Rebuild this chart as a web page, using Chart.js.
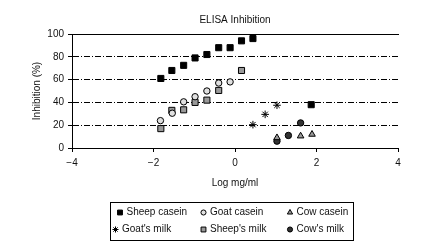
<!DOCTYPE html>
<html>
<head>
<meta charset="utf-8">
<script src="https://cdn.jsdelivr.net/npm/chart.js@4/dist/chart.umd.min.js"></script>
<style>
  html, body { margin: 0; padding: 0; background: #fff; }
  #wrap { width: 421px; height: 248px; position: relative; }
</style>
</head>
<body>
<div id="wrap"><canvas id="js-chart-elisa"></canvas></div>
<script>
  // Series data (log mg/ml vs inhibition %)
  const sheepCaseinX = [-1.82, -1.55, -1.26, -0.98, -0.69, -0.40, -0.12, 0.16, 0.44, 1.87];
  const sheepCaseinY = [61, 68, 72.5, 79, 82, 88, 88, 94, 96, 38];
  const goatCaseinX = [-1.83, -1.54, -1.26, -0.98, -0.69, -0.40, -0.12];
  const goatCaseinY = [24, 30.5, 40.5, 45, 50, 57, 58];
  const cowCaseinX = [1.03, 1.61, 1.89];
  const cowCaseinY = [9, 10.5, 12];
  const goatMilkX = [0.44, 0.74, 1.03];
  const goatMilkY = [20.5, 29.5, 37.5];
  const sheepMilkX = [-1.82, -1.55, -1.26, -0.98, -0.69, -0.40, 0.16];
  const sheepMilkY = [17, 33, 33.5, 40, 42, 50.5, 68];
  const cowMilkX = [1.03, 1.31, 1.61];
  const cowMilkY = [6, 11, 22];

  const seriesNames = ['Sheep casein', 'Goat casein', 'Cow casein', "Goat's milk", "Sheep's milk", "Cow's milk"];
  const xTicks = [-4, -2, 0, 2, 4];
  const yTicks = [0, 20, 40, 60, 80, 100];

  const toPoints = (xs, ys) => xs.map((x, i) => ({x: x, y: ys[i]}));
  const FONT = "'Liberation Sans', Arial, sans-serif";

  Chart.defaults.font.family = FONT;
  Chart.defaults.font.size = 10;
  Chart.defaults.color = '#111';

  const styles = [
    {pointStyle: 'rect', radius: 4.3, backgroundColor: '#000', borderColor: '#000'},
    {pointStyle: 'circle', radius: 3.2, backgroundColor: '#e0e0e0', borderColor: '#000'},
    {pointStyle: 'triangle', radius: 3.8, backgroundColor: '#999', borderColor: '#000'},
    {pointStyle: 'star', radius: 3.8, backgroundColor: '#000', borderColor: '#000'},
    {pointStyle: 'rect', radius: 4.3, backgroundColor: '#999', borderColor: '#000'},
    {pointStyle: 'circle', radius: 3.2, backgroundColor: '#333', borderColor: '#000'}
  ];
  const seriesData = [
    toPoints(sheepCaseinX, sheepCaseinY),
    toPoints(goatCaseinX, goatCaseinY),
    toPoints(cowCaseinX, cowCaseinY),
    toPoints(goatMilkX, goatMilkY),
    toPoints(sheepMilkX, sheepMilkY),
    toPoints(cowMilkX, cowMilkY)
  ];

  const datasets = seriesNames.map((name, i) => ({
    label: name,
    data: seriesData[i],
    pointStyle: styles[i].pointStyle,
    pointRadius: styles[i].radius,
    pointBackgroundColor: styles[i].backgroundColor,
    pointBorderColor: styles[i].borderColor,
    pointBorderWidth: 1,
    showLine: false
  }));

  // Boxed legend under the axis, 3 columns x 2 rows
  const boxLegend = {
    id: 'boxLegend',
    afterDraw(chart) {
      const ctx = chart.ctx;
      ctx.save();
      ctx.strokeStyle = '#000';
      ctx.lineWidth = 1;
      ctx.strokeRect(110.5, 202.5, 243, 38);
      const markX = [120, 203.5, 290, 115.5, 203.5, 290];
      const rowY = [212.5, 229.5];
      ctx.font = '10px ' + FONT;
      ctx.textBaseline = 'middle';
      ctx.textAlign = 'left';
      chart.data.datasets.forEach((ds, i) => {
        const x = markX[i], y = rowY[Math.floor(i / 3)];
        ctx.fillStyle = ds.pointBackgroundColor;
        ctx.strokeStyle = ds.pointBorderColor;
        ctx.lineWidth = 1;
        Chart.helpers.drawPoint(ctx, {pointStyle: ds.pointStyle, radius: ds.pointRadius * 0.8, rotation: 0, borderWidth: 1}, x, y);
        ctx.fillStyle = '#111';
        ctx.fillText(ds.label, x + 6.5, y);
      });
      ctx.restore();
    }
  };

  new Chart(document.getElementById('js-chart-elisa'), {
    type: 'scatter',
    data: {datasets: datasets},
    options: {
      responsive: true,
      maintainAspectRatio: false,
      animation: false,
      layout: {padding: {left: 0, right: 23, top: 0, bottom: 45}},
      plugins: {
        legend: {display: false},
        tooltip: {enabled: false}
      },
      scales: {
        x: {
          type: 'linear',
          position: 'bottom',
          min: -4,
          max: 4,
          afterBuildTicks: (axis) => { axis.ticks = xTicks.map(v => ({value: v})); },
          afterFit: (axis) => { axis.height = 55; },
          ticks: {
            padding: 5,
            maxRotation: 0,
            callback: (v) => String(v).replace('-', '\u2212')
          },
          grid: {drawOnChartArea: false, drawTicks: true, tickLength: 4, tickColor: '#000'},
          border: {display: true, color: '#000', width: 1},
          title: {display: true, text: 'Log mg/ml', color: '#111', padding: {top: 0, bottom: 14}}
        },
        // top frame line and the chart title, centred over the plot area
        xTop: {
          type: 'linear',
          position: 'top',
          min: -4,
          max: 4,
          ticks: {display: false},
          grid: {display: false},
          border: {display: true, color: '#000', width: 1},
          title: {display: true, text: 'ELISA Inhibition', color: '#111', padding: {top: 14.5, bottom: 0}},
          afterFit: (axis) => { axis.height = 34; }
        },
        y: {
          type: 'linear',
          min: 0,
          max: 100,
          afterBuildTicks: (axis) => { axis.ticks = yTicks.map(v => ({value: v})); },
          afterFit: (axis) => { axis.width = 72; },
          ticks: {padding: 4},
          grid: {
            color: (c) => (c.tick && (c.tick.value === 0 || c.tick.value === 100)) ? 'transparent' : '#000',
            tickColor: '#000',
            tickLength: 4,
            lineWidth: 1
          },
          border: {display: true, color: '#000', width: 1, dash: [6, 2, 1, 2]},
          title: {display: true, text: 'Inhibition (%)', color: '#111', padding: {top: 31, bottom: 0}}
        }
      }
    },
    plugins: [boxLegend]
  });
</script>
</body>
</html>
